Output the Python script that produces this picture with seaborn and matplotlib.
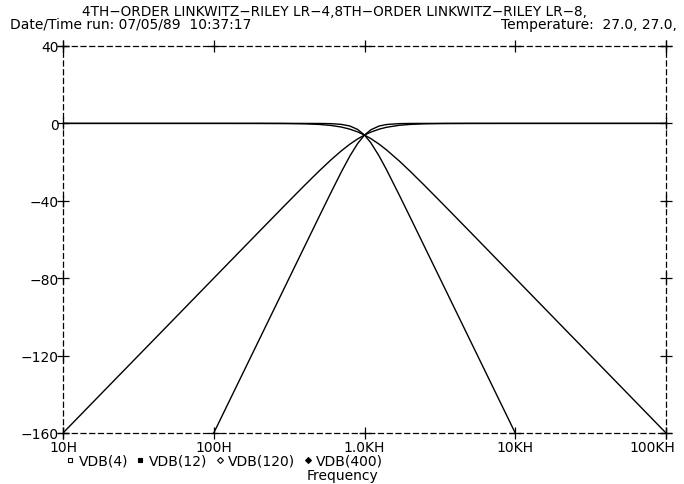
import matplotlib
matplotlib.use('Agg')
import matplotlib.pyplot as plt
import matplotlib.ticker as mticker
from matplotlib.lines import Line2D
from matplotlib.transforms import ScaledTranslation
import pandas as pd
import seaborn as sns

# frequency points (Hz) and the four traces in dB
freq = [10, 20, 50, 100, 200, 300, 400, 500, 600, 700, 800, 900, 1000,
        1100, 1250, 1400, 1700, 2000, 2500, 3300, 5000, 10000, 20000, 50000, 100000]
vdb_4 = [0, 0, 0, 0, -0.01, -0.07, -0.22, -0.53, -1.06, -1.87, -2.98, -4.38, -6.02,
         -7.83, -10.73, -13.70, -19.42, -24.61, -32.05, -41.55, -55.92, -80.0, -104.1, -135.9, -160.0]
vdb_12 = [-160.0, -135.9, -104.1, -80.0, -55.92, -41.90, -32.05, -24.61, -18.81, -14.26, -10.73, -8.04, -6.02,
          -4.52, -2.98, -2.01, -0.98, -0.53, -0.22, -0.07, -0.01, 0, 0, 0, 0]
vdb_120 = [0, 0, 0, 0, 0, 0, -0.01, -0.03, -0.14, -0.49, -1.35, -3.11, -6.02,
           -9.95, -16.85, -23.95, -37.0, -48.2, -63.68, -82.96, -111.84, -160.0, -208.2, -271.8, -320.0]
vdb_400 = [-320.0, -271.8, -208.2, -160.0, -111.84, -83.66, -63.68, -48.2, -35.64, -25.27, -16.85, -10.43, -6.02,
           -3.33, -1.35, -0.57, -0.12, -0.03, 0, 0, 0, 0, 0, 0, 0]

trace_names = ['VDB(4)', 'VDB(12)', 'VDB(120)', 'VDB(400)']
x_ticks = [10, 100, 1000, 10000, 100000]
x_labels = ['10H', '100H', '1.0KH', '10KH', '100KH']
y_ticks = [40, 0, -40, -80, -120, -160]

title = '4TH\u2212ORDER LINKWITZ\u2212RILEY LR\u22124,8TH\u2212ORDER LINKWITZ\u2212RILEY LR\u22128,'
run_info = 'Date/Time run: 07/05/89  10:37:17'
temp_info = 'Temperature:  27.0, 27.0,'

df = pd.DataFrame({'freq': freq * 4,
                   'db': vdb_4 + vdb_12 + vdb_120 + vdb_400,
                   'trace': [n for n in trace_names for _ in freq]})

sns.set_style('white')
plt.rcParams['font.family'] = ['DejaVu Sans']
plt.rcParams['text.color'] = 'black'
plt.rcParams['xtick.color'] = 'black'
plt.rcParams['ytick.color'] = 'black'
fs = 10

fig = plt.figure(figsize=(6.84, 4.85), dpi=100)
ax = fig.add_axes([63 / 684, 1 - 434 / 485, (666 - 63) / 684, (434 - 47) / 485])

sns.lineplot(data=df, x='freq', y='db', hue='trace', palette=['black'] * 4,
             legend=False, linewidth=1.0, ax=ax, estimator=None, sort=False)

ax.set_xscale('log')
ax.set_xlim(10, 100000)
ax.set_ylim(-160, 40)
ax.xaxis.set_major_locator(mticker.FixedLocator(x_ticks))
ax.xaxis.set_minor_locator(mticker.NullLocator())
ax.set_xticks(x_ticks)
ax.set_xticklabels(x_labels, fontsize=fs)
ax.set_yticks(y_ticks)
ax.set_yticklabels([str(v).replace('-', '\u2212') for v in y_ticks], fontsize=fs)
ax.tick_params(axis='x', length=0, pad=5)
ax.tick_params(axis='y', length=0, pad=3)
ax.set_xlabel('')
ax.set_ylabel('')

# last frequency label is pulled back inside the page, as in the original
last = ax.get_xticklabels()[-1]
last.set_horizontalalignment('right')
last.set_transform(last.get_transform() + ScaledTranslation(0.09, 0, fig.dpi_scale_trans))

for side in ['left', 'right', 'top', 'bottom']:
    ax.spines[side].set_linestyle((0, (4, 3)))
    ax.spines[side].set_linewidth(0.9)
    ax.spines[side].set_color('black')

# "+" tick crosses on all four edges
for xv in x_ticks:
    for yv in (0, 1):
        ax.plot(xv, yv, marker='+', ms=9, mew=0.9, color='black',
                transform=ax.get_xaxis_transform(), clip_on=False)
for yv in y_ticks:
    for xv in (0, 1):
        ax.plot(xv, yv, marker='+', ms=9, mew=0.9, color='black',
                transform=ax.get_yaxis_transform(), clip_on=False)

fig.text(82 / 684, 1 - 12 / 485, title, fontsize=9.8, va='center', ha='left')
fig.text(10 / 684, 1 - 25 / 485, run_info, fontsize=fs, va='center', ha='left')
fig.text(677 / 684, 1 - 25 / 485, temp_info, fontsize=fs, va='center', ha='right')

handles = [
    Line2D([], [], ls='none', marker='s', ms=3.5, mfc='white', mec='black', mew=0.8),
    Line2D([], [], ls='none', marker='s', ms=3.5, mfc='black', mec='black', mew=0.8),
    Line2D([], [], ls='none', marker='D', ms=3, mfc='white', mec='black', mew=0.8),
    Line2D([], [], ls='none', marker='D', ms=3, mfc='black', mec='black', mew=0.8),
]
fig.legend(handles, trace_names, loc='center left', bbox_to_anchor=(66 / 684, 1 - 462 / 485),
           ncol=4, frameon=False, fontsize=fs, handlelength=0.6, handletextpad=0.3,
           columnspacing=0.6, borderpad=0, borderaxespad=0)
fig.text(307 / 684, 1 - 476 / 485, 'Frequency', fontsize=fs, va='center', ha='left')

fig.savefig('out.png', dpi=100)
